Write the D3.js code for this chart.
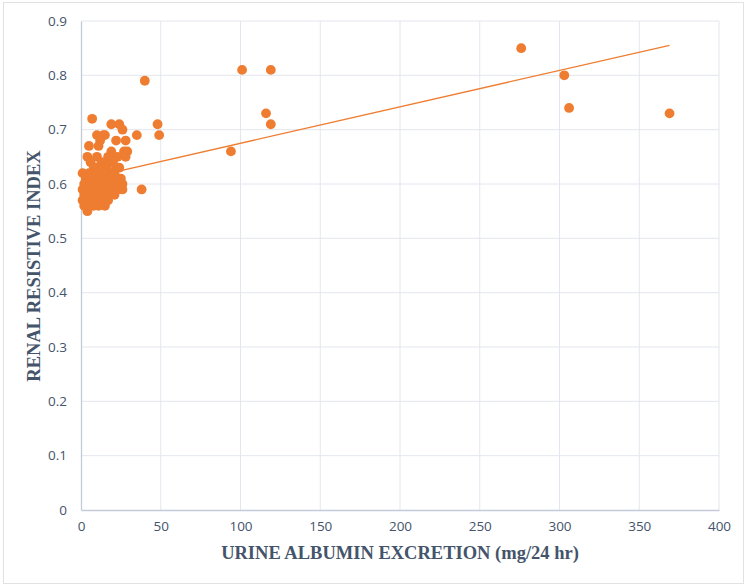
<!DOCTYPE html>
<html>
<head>
<meta charset="utf-8">
<script src="https://cdn.jsdelivr.net/npm/d3@7"></script>
<style>
  body { margin: 0; background: #fff; }
  svg { display: block; }
</style>
</head>
<body>
<div id="vis"></div>
<script>
// Dispersión: excreción urinaria de albúmina vs índice resistivo renal
const width = 750, height = 588;
const margin = { top: 21, right: 32, bottom: 78, left: 81 };

// valores (x = mg/24 hr, y = índice)
const albumin = [
  7, 19, 24, 26, 10, 14, 15, 12, 22, 28, 5, 11, 29, 19, 4, 10, 17, 20, 23, 28, 27, 20, 6, 13, 17,
  24, 8, 10, 13, 16, 22,
  1, 5, 9, 12, 15, 19, 21, 3, 7, 11, 14, 18, 22, 25, 2, 6, 9, 13, 17, 20, 26, 1, 4, 8, 11, 15, 19,
  23, 26, 2, 5, 7, 10, 13, 16, 18, 21, 1, 3, 6, 9, 12, 14, 17, 2, 5, 8, 11, 15, 4, 3, 16, 24, 7, 12,
  35, 38, 40, 48, 49, 94, 101, 116, 119, 119, 276, 303, 306, 369
];
const rri = [
  0.72, 0.71, 0.71, 0.70, 0.69, 0.69, 0.69, 0.68, 0.68, 0.68, 0.67, 0.67, 0.66, 0.66, 0.65, 0.65,
  0.65, 0.65, 0.65, 0.65, 0.66, 0.64, 0.64, 0.64, 0.64, 0.63, 0.63, 0.63, 0.63, 0.63, 0.63,
  0.62, 0.62, 0.62, 0.62, 0.62, 0.62, 0.62, 0.61, 0.61, 0.61, 0.61, 0.61, 0.61, 0.61, 0.60, 0.60,
  0.60, 0.60, 0.60, 0.60, 0.60, 0.59, 0.59, 0.59, 0.59, 0.59, 0.59, 0.59, 0.59, 0.58, 0.58, 0.58,
  0.58, 0.58, 0.58, 0.58, 0.58, 0.57, 0.57, 0.57, 0.57, 0.57, 0.57, 0.57, 0.56, 0.56, 0.56, 0.56,
  0.56, 0.55, 0.58, 0.61, 0.60, 0.57, 0.60,
  0.69, 0.59, 0.79, 0.71, 0.69, 0.66, 0.81, 0.73, 0.81, 0.71, 0.85, 0.80, 0.74, 0.73
];
const xTicks = [0, 50, 100, 150, 200, 250, 300, 350, 400];
const yTicks = [0, 0.1, 0.2, 0.3, 0.4, 0.5, 0.6, 0.7, 0.8, 0.9];

// línea de tendencia lineal tal como aparece en el gráfico
const trendIntercept = 0.608;
const trendSlope = 0.00067;

const points = albumin.map((x, i) => ({ x, y: rri[i] }));

const svg = d3.select("#vis").append("svg")
  .attr("width", width).attr("height", height);

// marco exterior
svg.append("rect")
  .attr("x", 3.5).attr("y", 2.5)
  .attr("width", 740).attr("height", 581)
  .attr("fill", "#fff").attr("stroke", "#e2e2e2");

const x = d3.scaleLinear().domain([0, 400]).range([margin.left, width - margin.right + 1]);
const y = d3.scaleLinear().domain([0, 0.9]).range([height - margin.bottom, margin.top]);

// rejilla
svg.append("g").selectAll("line").data(xTicks.slice(1)).join("line")
  .attr("x1", d => x(d)).attr("x2", d => x(d))
  .attr("y1", y(0)).attr("y2", y(0.9))
  .attr("stroke", "#e3e6ee").attr("stroke-width", 1);
svg.append("g").selectAll("line").data(yTicks.slice(1)).join("line")
  .attr("x1", x(0)).attr("x2", x(400))
  .attr("y1", d => y(d)).attr("y2", d => y(d))
  .attr("stroke", "#e3e6ee").attr("stroke-width", 1);

// ejes
const xAxis = svg.append("g").attr("transform", `translate(0,${y(0)})`)
  .call(d3.axisBottom(x).tickValues(xTicks).tickSize(0).tickPadding(11));
const yAxis = svg.append("g").attr("transform", `translate(${x(0)},0)`)
  .call(d3.axisLeft(y).tickValues(yTicks).tickSize(0).tickPadding(14)
    .tickFormat(d => d === 0 ? "0" : d3.format(".1f")(d)));
[xAxis, yAxis].forEach(a => {
  a.select(".domain").attr("stroke", "#c3cad8").attr("stroke-width", 1.3);
  a.selectAll("text")
    .attr("font-family", "'Open Sans', 'Noto Sans', sans-serif")
    .attr("font-size", 13.5).attr("fill", "#44546a");
});

// puntos
svg.append("g").selectAll("circle").data(points).join("circle")
  .attr("cx", d => x(d.x)).attr("cy", d => y(d.y))
  .attr("r", 4.9)
  .attr("fill", "#ee7d31");

const xr = d3.extent(points, d => d.x);
svg.append("line")
  .attr("x1", x(xr[0])).attr("y1", y(trendIntercept + trendSlope * xr[0]))
  .attr("x2", x(xr[1])).attr("y2", y(trendIntercept + trendSlope * xr[1]))
  .attr("stroke", "#ee7d31").attr("stroke-width", 1.3);

// títulos
svg.append("text")
  .attr("x", 400).attr("y", 559)
  .attr("text-anchor", "middle")
  .attr("font-family", "'Liberation Serif', 'Times New Roman', serif")
  .attr("font-weight", "bold").attr("font-size", 18.5)
  .attr("fill", "#44546a")
  .text("URINE ALBUMIN EXCRETION (mg/24 hr)");

svg.append("text")
  .attr("transform", "translate(40,266) rotate(-90)")
  .attr("text-anchor", "middle")
  .attr("font-family", "'Liberation Serif', 'Times New Roman', serif")
  .attr("font-weight", "bold").attr("font-size", 18.5)
  .attr("fill", "#44546a")
  .text("RENAL RESISTIVE INDEX");
</script>
</body>
</html>
